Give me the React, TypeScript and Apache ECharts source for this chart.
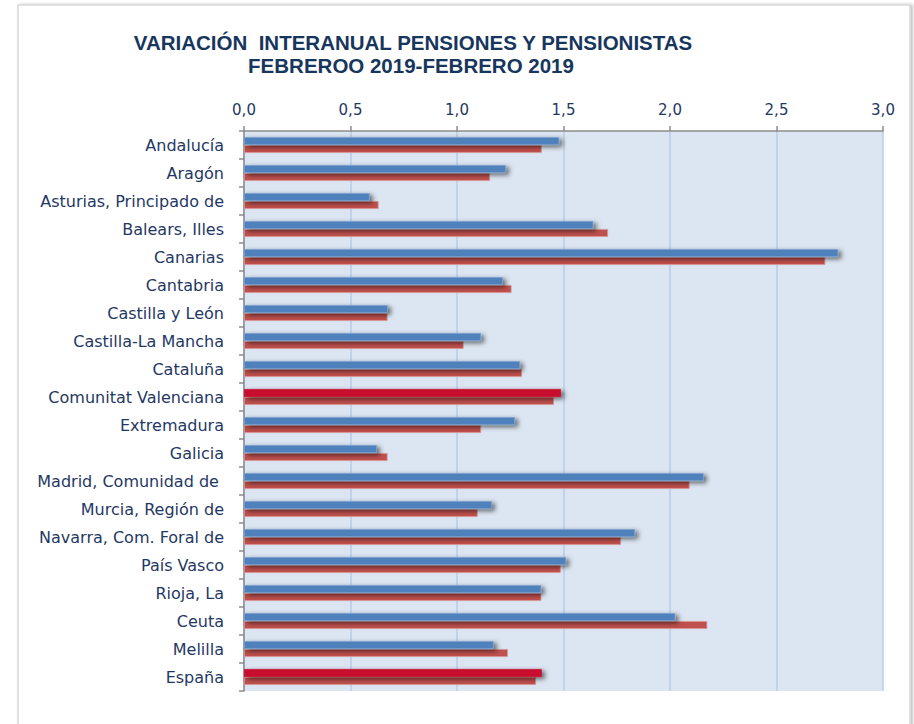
import React, { useEffect, useRef } from "react";
import * as echarts from "echarts";

const categories = [
  "Andalucía",
  "Aragón",
  "Asturias, Principado de",
  "Balears, Illes",
  "Canarias",
  "Cantabria",
  "Castilla y León",
  "Castilla-La Mancha",
  "Cataluña",
  "Comunitat Valenciana",
  "Extremadura",
  "Galicia",
  "Madrid, Comunidad de ",
  "Murcia, Región de",
  "Navarra, Com. Foral de",
  "País Vasco",
  "Rioja, La",
  "Ceuta",
  "Melilla",
  "España",
];

const pensiones = [
  1.48, 1.23, 0.59, 1.64, 2.79, 1.215, 0.675, 1.113, 1.296, 1.488, 1.272,
  0.624, 2.158, 1.164, 1.836, 1.512, 1.396, 2.025, 1.172, 1.398,
];

const pensionistas = [
  1.398, 1.155, 0.632, 1.709, 2.729, 1.256, 0.674, 1.031, 1.305, 1.455, 1.113,
  0.674, 2.092, 1.097, 1.77, 1.487, 1.396, 2.175, 1.239, 1.371,
];

const highlighted = ["Comunitat Valenciana", "España"];

const xTicks = [0, 0.5, 1, 1.5, 2, 2.5, 3];

const titleLines = [
  "VARIACIÓN  INTERANUAL PENSIONES Y PENSIONISTAS",
  "FEBREROO 2019-FEBRERO 2019",
];

export default function App() {
  const ref = useRef<HTMLDivElement>(null);

  useEffect(() => {
    if (!ref.current) return;
    const chart = echarts.init(ref.current, null, { renderer: "svg" });
    const navy = "#1F3864";
    const font = "DejaVu Sans";

    chart.setOption({
      animation: false,
      backgroundColor: "#ffffff",
      graphic: [
        {
          type: "rect",
          shape: { x: 18, y: 5, width: 892, height: 740 },
          style: {
            fill: "#ffffff",
            stroke: "#D9D9D9",
            lineWidth: 1.5,
            shadowBlur: 3,
            shadowOffsetX: 2,
            shadowOffsetY: 0,
            shadowColor: "rgba(0,0,0,0.25)",
          },
          z: -10,
          silent: true,
        },
        {
          type: "text",
          x: 413,
          y: 42,
          style: {
            text: titleLines[0],
            fill: "#17365D",
            font: `bold 20.5px "Liberation Sans", Arial, sans-serif`,
            textAlign: "center",
            textVerticalAlign: "middle",
          },
          z: 10,
        },
        {
          type: "text",
          x: 411,
          y: 65,
          style: {
            text: titleLines[1],
            fill: "#17365D",
            font: `bold 20.5px "Liberation Sans", Arial, sans-serif`,
            textAlign: "center",
            textVerticalAlign: "middle",
          },
          z: 10,
        },
      ],
      grid: {
        left: 244,
        right: 31,
        top: 131,
        bottom: 33,
        show: true,
        backgroundColor: "#DCE6F2",
        borderWidth: 0,
        containLabel: false,
      },
      xAxis: {
        type: "value",
        position: "top",
        min: 0,
        max: 3,
        interval: 0.5,
        axisLine: { show: true, lineStyle: { color: "#8C8C8C", width: 1.5 } },
        axisTick: {
          show: true,
          inside: false,
          length: 5,
          lineStyle: { color: "#8C8C8C", width: 1.5 },
        },
        splitLine: { show: true, lineStyle: { color: "#B9CDE5", width: 1.5 } },
        axisLabel: {
          color: navy,
          fontFamily: font,
          fontSize: 15,
          margin: 14,
          formatter: (v: number) =>
            xTicks.includes(v) ? v.toFixed(1).replace(".", ",") : "",
        },
      },
      yAxis: {
        type: "category",
        data: categories,
        inverse: true,
        axisLine: { show: true, lineStyle: { color: "#8C8C8C", width: 1.5 } },
        axisTick: {
          show: true,
          inside: false,
          length: 5,
          lineStyle: { color: "#8C8C8C", width: 1.5 },
        },
        splitLine: { show: false },
        axisLabel: {
          color: navy,
          fontFamily: font,
          fontSize: 16,
          margin: 20,
        },
      },
      series: [
        {
          name: "Pensiones",
          type: "bar",
          barWidth: 8,
          barGap: "0%",
          data: pensiones.map((v, i) => ({
            value: v,
            itemStyle: highlighted.includes(categories[i])
              ? { color: "#C8102E", borderColor: "#C8102E" }
              : undefined,
          })),
          itemStyle: {
            color: "#4F81BD",
            borderColor: "#7BA0CD",
            borderWidth: 0.8,
            shadowBlur: 5,
            shadowOffsetX: 3,
            shadowOffsetY: 2,
            shadowColor: "rgba(0,0,0,0.6)",
          },
          z: 3,
        },
        {
          name: "Pensionistas",
          type: "bar",
          barWidth: 8,
          barGap: "0%",
          data: pensionistas,
          itemStyle: {
            color: "#C0504D",
            borderColor: "#D99694",
            borderWidth: 0.8,
          },
          z: 2,
        },
      ],
    });

    return () => chart.dispose();
  }, []);

  return (
    <div
      ref={ref}
      style={{ position: "fixed", left: 0, top: 0, width: 914, height: 724 }}
    />
  );
}
